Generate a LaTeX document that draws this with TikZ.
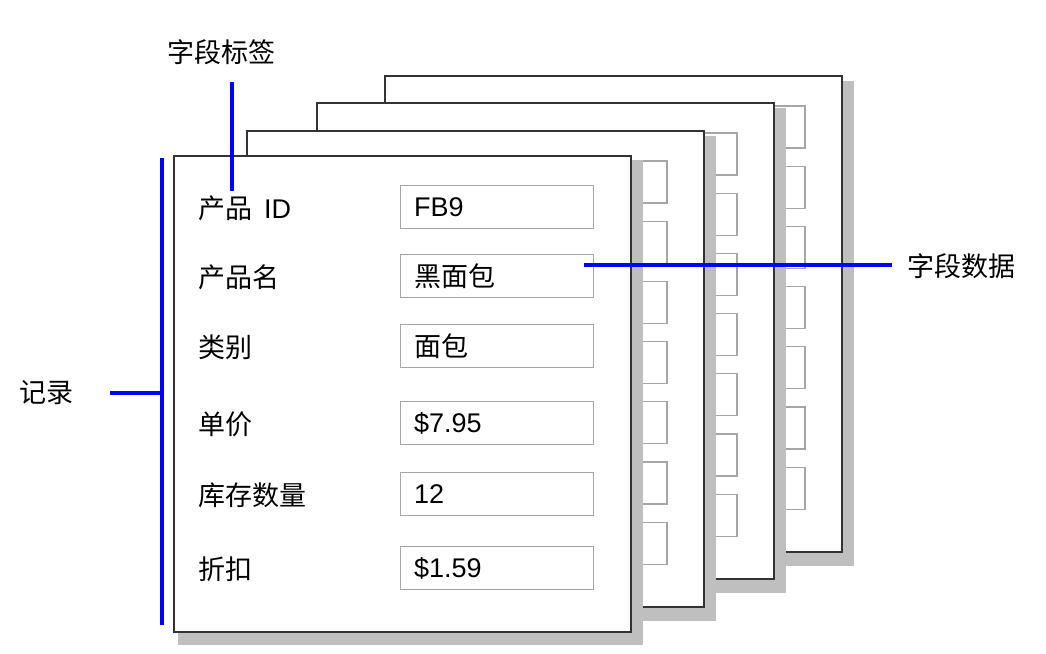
\documentclass[tikz,border=0pt]{standalone}
\usepackage{fontspec}
\setmainfont{Liberation Sans}
\newfontfamily\cjk{Noto Sans CJK SC}
\begin{document}
\begin{tikzpicture}[x=1pt,y=-1pt,
  card/.style={fill=white,draw=black!80,line width=1.2pt},
  cardshade/.style={fill=black!25},
  fieldbox/.style={draw=black!35,line width=1.2pt,fill=white},
  callout/.style={draw=blue,line width=3.2pt},
  lbl/.style={font=\cjk\fontsize{27}{31}\selectfont,anchor=west,inner sep=0pt},
  val/.style={font=\fontsize{27}{31}\selectfont,anchor=west,inner sep=0pt}]
  \useasboundingbox (0,0) rectangle (1046,653);
  % Back records
  \foreach \dx/\dy in {211/-80,143/-53,73/-25}{
    \begin{scope}[shift={(\dx,\dy)}]
      \fill[cardshade] (178,161) rectangle (643,646);
      \draw[card] (174,156) rectangle (631,632);
      \foreach \k in {0,...,6}
        \draw[fieldbox] (401,{186+60.2*\k}) rectangle (594,{228+60.2*\k});
    \end{scope}
  }
  % Front record
  \fill[cardshade] (178,160) rectangle (643,645);
  \draw[card] (174,156) rectangle (631,632);
  \foreach \t/\lab/\v [count=\i] in {185/{产品\hspace{12pt}{\rmfamily ID}}/FB9,
      254/产品名/{\cjk 黑面包}, 324/类别/{\cjk 面包}, 401/单价/\$7.95,
      472/库存数量/12, 546/折扣/\$1.59}{
    \node[fieldbox,minimum width=193,minimum height=43,inner sep=0pt,
      anchor=north west] (box\i) at (400,\t) {};
    \node[val] (val\i) at ([xshift=14pt]box\i.west) {\v};
    \node[lbl] (lbl\i) at (198,{\t+23}) {\lab};
  }
  % Callouts
  \node[lbl,anchor=center] (tagText) at (221,52) {字段标签};
  \coordinate (tagTop) at (232,82);
  \coordinate (tagBot) at (232,191);
  \draw[callout] (tagTop) -- (tagBot);
  \node[lbl] (dataText) at (907,266) {字段数据};
  \coordinate (dataIn) at (584,265);
  \coordinate (dataOut) at (892,265);
  \draw[callout] (dataIn) -- (dataOut);
  \node[lbl,anchor=center] (recText) at (46,393) {记录};
  \coordinate (recTop) at (162,158);
  \coordinate (recBot) at (162,625);
  \coordinate (recMid) at (162,393);
  \coordinate (recTick) at (110,393);
  \draw[callout] (recTop) -- (recBot);
  \draw[callout] (recTick) -- (recMid);
\end{tikzpicture}
\end{document}
